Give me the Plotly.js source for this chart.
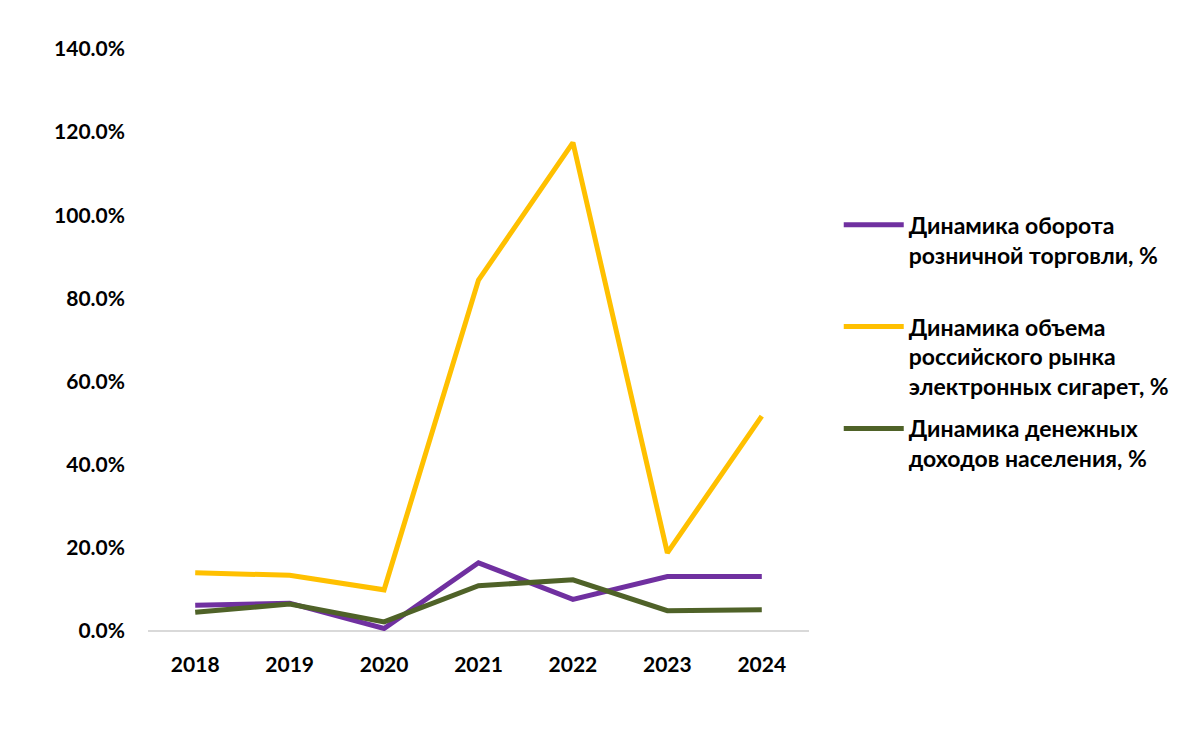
<!DOCTYPE html>
<html>
<head>
<meta charset="utf-8">
<script src="https://cdn.plot.ly/plotly-3.0.1.min.js"></script>
<style>html,body{margin:0;padding:0;background:#fff;}#chart{width:1200px;height:748px;}</style>
</head>
<body>
<div id="chart"></div>
<script>
const years = ['2018','2019','2020','2021','2022','2023','2024'];
const retailTurnover = [6.2, 6.7, 0.6, 16.4, 7.6, 13.1, 13.1];
const eCigMarket = [14.0, 13.4, 9.9, 84.4, 117.5, 18.8, 51.7];
const cashIncome = [4.5, 6.5, 2.2, 10.9, 12.3, 4.9, 5.1];
const seriesNames = [
  'Динамика оборота<br>розничной торговли, %',
  'Динамика объема<br>российского рынка<br>электронных сигарет, %',
  'Динамика денежных<br>доходов населения, %'
];
const yTicks = [0, 20, 40, 60, 80, 100, 120, 140];

const FONT = 'Lato, "Liberation Sans", Arial, sans-serif';
const colors = ['#7030A0', '#FFC000', '#4F6228'];
const series = [retailTurnover, eCigMarket, cashIncome];
const legends = ['legend', 'legend2', 'legend3'];

const traces = series.map((vals, i) => ({
  x: years,
  y: vals,
  type: 'scatter',
  mode: 'lines',
  name: seriesNames[i],
  line: {color: colors[i], width: 5},
  legend: legends[i],
  hoverinfo: 'skip'
}));

function legendAt(y) {
  return {
    x: 1.045, xanchor: 'left', y: y, yanchor: 'top',
    valign: 'top',
    font: {family: FONT, size: 23, color: '#000', weight: 'bold'},
    bgcolor: 'rgba(0,0,0,0)',
    itemwidth: 60,
    tracegroupgap: 0
  };
}

const tickFont = {family: FONT, size: 21, color: '#000', weight: 'bold'};

const layout = {
  width: 1200,
  height: 748,
  margin: {l: 148, r: 391, t: 49, b: 117},
  paper_bgcolor: '#fff',
  plot_bgcolor: '#fff',
  font: {family: FONT, size: 21, color: '#000', weight: 'bold'},
  showlegend: true,
  legend: legendAt(0.735),
  legend2: legendAt(0.560),
  legend3: legendAt(0.385),
  xaxis: {
    type: 'category',
    range: [-0.5, 6.5],
    showgrid: false,
    zeroline: false,
    showline: false,
    ticks: '',
    ticklabelstandoff: 19,
    tickfont: tickFont,
    fixedrange: true
  },
  yaxis: {
    range: [0, 140],
    tickvals: yTicks,
    ticktext: yTicks.map(v => v.toFixed(1) + '%'),
    showgrid: false,
    zeroline: true,
    zerolinecolor: '#D9D9D9',
    zerolinewidth: 2,
    showline: false,
    ticks: '',
    ticklabelstandoff: 22,
    tickfont: tickFont,
    fixedrange: true
  }
};

Plotly.newPlot('chart', traces, layout, {displayModeBar: false, staticPlot: true});
</script>
</body>
</html>
